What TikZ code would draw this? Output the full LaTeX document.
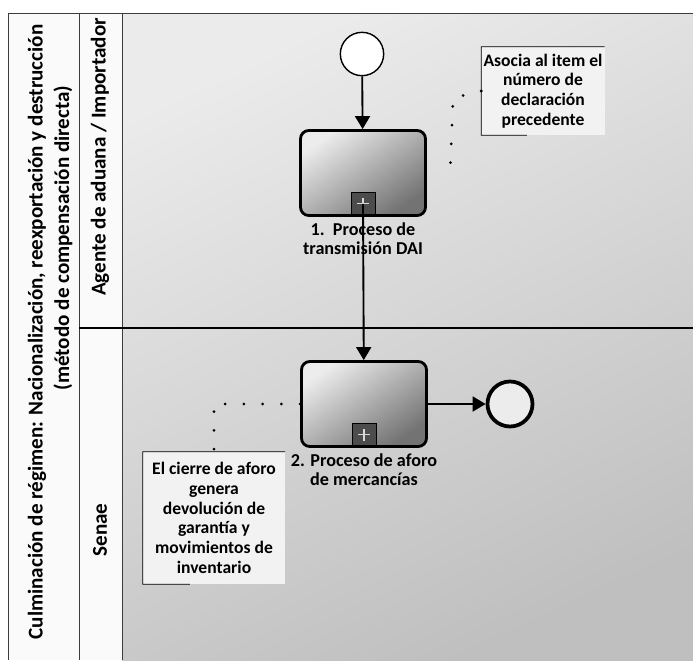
\documentclass[tikz,border=0pt]{standalone}
\usepackage{fontspec}
\setmainfont{Carlito}
\usetikzlibrary{arrows.meta, positioning, calc}
\definecolor{framegray}{RGB}{60,60,60}

\begin{document}
\begin{tikzpicture}[x=0.03cm, y=-0.03cm,
  flow/.style={-{Triangle[length=0.39cm, width=0.45cm]}, line width=1.6pt},
  assoc/.style={line width=2.6pt, line cap=round, dash pattern=on 0pt off 16pt},
  task/.style={draw, line width=2.4pt, rounded corners=0.25cm,
    minimum width=3.75cm, minimum height=2.55cm,
    top color=gray!15, bottom color=gray!90!black, shading angle=35},
  marker/.style={draw, line width=0.8pt, fill=gray!60!black, minimum width=0.72cm,
    minimum height=0.66cm, inner sep=0pt, anchor=south},
  tasklabel/.style={font=\bfseries\fontsize{15.5}{16.5}\selectfont, align=center, inner sep=1pt},
  note/.style={fill=gray!10, align=center, inner sep=1pt,
    font=\bfseries\fontsize{15}{16.8}\selectfont},
  lanetitle/.style={rotate=90, font=\bfseries\fontsize{18}{21}\selectfont}
]
  \useasboundingbox (0,0) rectangle (693,660);
  % pool and lanes
  \fill[gray!4] (8,13) rectangle (122,660);
  \shade[top color=gray!16, bottom color=gray!50, shading angle=25] (122,13) rectangle (693,660);
  \draw[framegray, line width=0.7pt] (693,13) -- (8,13) -- (8,660);
  \draw[framegray, line width=0.7pt] (79,13) -- (79,660);
  \draw[framegray, line width=0.7pt] (122,13) -- (122,660);
  \draw[line width=1.1pt] (79,328) -- (693,328);

  \node[lanetitle] (pool1) at (37,332) {Culminación de régimen: Nacionalización, reexportación y destrucción};
  \node[lanetitle] (pool2) at (63,238) {(método de compensación directa)};
  \node[lanetitle] (lane1) at (100,157) {Agente de aduana / Importador};
  \node[lanetitle] (lane2) at (100,530) {Senae};

  % events and tasks
  \node[draw, circle, line width=1.2pt, fill=white, minimum size=1.3cm, inner sep=0pt] (start) at (362,54) {};
  \node[task] (t1) at (363,173) {};
  \node[marker] (m1) at ([yshift=0.05cm]t1.south) {};
  \draw[gray!30, line width=1pt] ($(m1.center)+(-6,0)$) -- ($(m1.center)+(6,0)$)
    ($(m1.center)+(0,-6)$) -- ($(m1.center)+(0,6)$);
  \node[tasklabel, below=0.12cm of t1] (l1) {1.\ \ Proceso de\\transmisión DAI};

  \node[task] (t2) at (364,404) {};
  \node[marker] (m2) at ([yshift=0.05cm]t2.south) {};
  \draw[gray!30, line width=1pt] ($(m2.center)+(-6,0)$) -- ($(m2.center)+(6,0)$)
    ($(m2.center)+(0,-6)$) -- ($(m2.center)+(0,6)$);
  \node[tasklabel, below=0.12cm of t2] (l2) {2. Proceso de aforo\\de mercancías};

  \node[draw, circle, line width=3.2pt, fill=gray!15, minimum size=1.35cm, inner sep=0pt] (end) at (510,404) {};

  % annotations
  \node[note, minimum width=3.69cm, minimum height=2.64cm] (note1) at (543,91)
    {Asocia al item el\\número de\\declaración\\precedente};
  \draw[line width=0.8pt] (note1.north east) -- (note1.north west) -- (note1.south west)
    -- ($(note1.south west)!0.37!(note1.south east)$);
  \node[note, minimum width=4.26cm, minimum height=3.96cm] (note2) at (214,518)
    {El cierre de aforo\\genera\\devolución de\\garantía y\\movimientos de\\inventario};
  \draw[line width=0.8pt] (note2.north east) -- (note2.north west) -- (note2.south west)
    -- ($(note2.south west)!0.33!(note2.south east)$);

  % flows
  \draw[flow] (start) -- (t1);
  \draw[flow] (m1.center) -- (t2);
  \draw[flow] (t2) -- (end);

  % associations
  \coordinate (bend1) at (453,98);
  \coordinate (tip1) at (450,176);
  \draw[assoc] (note1.west) -- (bend1) -- (tip1);
  \draw[assoc] (t2.west) -| (note2.north);
\end{tikzpicture}
\end{document}
